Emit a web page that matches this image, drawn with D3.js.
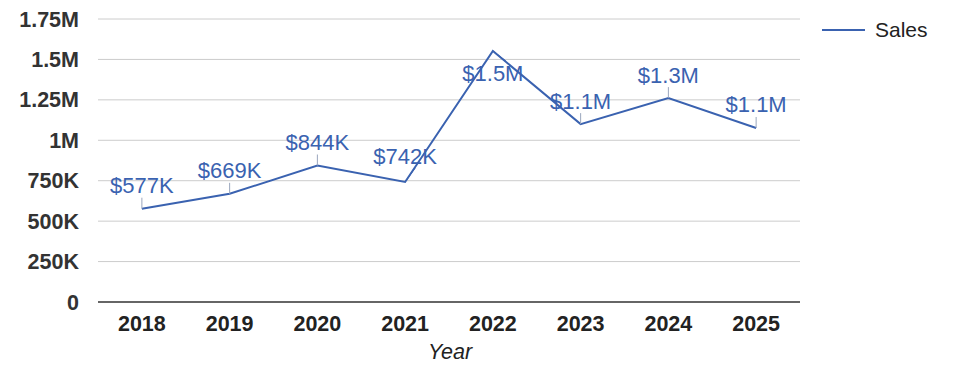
<!DOCTYPE html>
<html><head><meta charset="utf-8">
<script src="https://cdn.jsdelivr.net/npm/d3@7"></script>
<style>body{margin:0;background:#fff}svg{display:block;font-family:"Liberation Sans",Arial,sans-serif}</style>
</head><body><svg id="c" width="975" height="378"></svg>
<script>
const years = ["2018","2019","2020","2021","2022","2023","2024","2025"];
const sales = [577000, 669000, 844000, 742000, 1552000, 1100000, 1261000, 1076000];
const labels = ["$577K","$669K","$844K","$742K","$1.5M","$1.1M","$1.3M","$1.1M"];
const yTicks = [0, 250000, 500000, 750000, 1000000, 1250000, 1500000, 1750000];
const yTickLabels = ["0","250K","500K","750K","1M","1.25M","1.5M","1.75M"];
// label leader offsets (dx, dy of leader end relative to point)
const leaderDx = [0,0,0,10,13,0,0,0];
const leaderDy = [-11,-11,-11,-14,10,-11,-11,-11];

const svg = d3.select("#c");
const pLeft = 98, pRight = 800, pTop = 19, pBottom = 302;
const x = d3.scaleBand().domain(years).range([pLeft, pRight]);
const y = d3.scaleLinear().domain([0, 1750000]).range([pBottom, pTop]);
const cx = d => x(d) + x.bandwidth()/2;
const color = "#3a62b0";

// gridlines
svg.append("g").selectAll("line").data(yTicks.filter(d=>d>0)).join("line")
  .attr("x1", pLeft).attr("x2", pRight)
  .attr("y1", d=>y(d)).attr("y2", d=>y(d))
  .attr("stroke", "#cccccc").attr("stroke-width", 1);
// y labels
svg.append("g").selectAll("text").data(yTicks).join("text")
  .attr("x", 79).attr("y", d=>y(d)).attr("dy","0.35em")
  .attr("text-anchor","end").attr("font-size", 21.5).attr("font-weight","bold")
  .attr("fill","#333").text((d,i)=>yTickLabels[i]);
// baseline axis
svg.append("line").attr("x1", pLeft).attr("x2", pRight)
  .attr("y1", y(0)).attr("y2", y(0)).attr("stroke","#333").attr("stroke-width",1.5);
// x labels
svg.append("g").selectAll("text").data(years).join("text")
  .attr("x", d=>cx(d)).attr("y", 331).attr("text-anchor","middle")
  .attr("font-size", 21.5).attr("font-weight","bold").attr("fill","#222").text(d=>d);
svg.append("text").attr("x", 450).attr("y", 359).attr("text-anchor","middle")
  .attr("font-size", 21.5).attr("font-style","italic").attr("fill","#222").text("Year");

// line
const line = d3.line().x((d,i)=>cx(years[i])).y(d=>y(d));
svg.append("path").datum(sales).attr("d", line).attr("fill","none")
  .attr("stroke", color).attr("stroke-width", 2).attr("stroke-linejoin","miter");

// leaders and labels
sales.forEach((v,i)=>{
  const px = cx(years[i]), py = y(v);
  const ex = px + leaderDx[i], ey = py + leaderDy[i];
  svg.append("line").attr("x1",px).attr("y1",py).attr("x2",ex).attr("y2",ey)
    .attr("stroke", i===3||i===4 ? color : "#9aa6bd").attr("stroke-width",1);
  let tx = px, ty;
  if (leaderDy[i] > 0) { ty = ey + 20; }
  else { ty = ey - 4.5; }
  svg.append("text").attr("x", tx).attr("y", ty).attr("text-anchor","middle")
    .attr("font-size", 22).attr("fill", color).text(labels[i]);
});

// legend
svg.append("line").attr("x1",822).attr("x2",865).attr("y1",30).attr("y2",30)
  .attr("stroke",color).attr("stroke-width",2);
svg.append("text").attr("x",875).attr("y",37).attr("font-size",21).attr("fill","#222").text("Sales");
</script></body></html>
